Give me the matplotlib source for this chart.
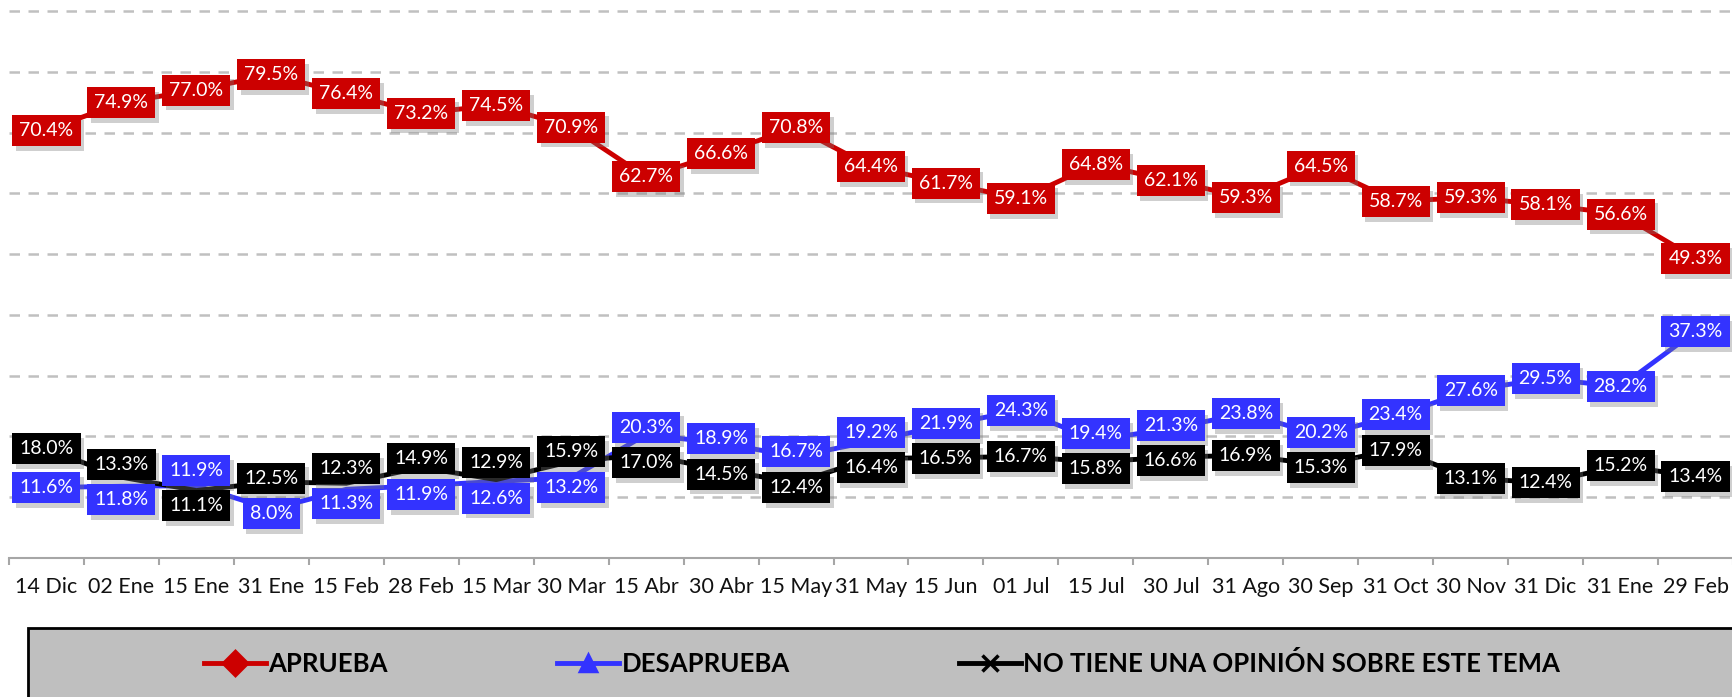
import numpy as np
import matplotlib
matplotlib.use('Agg')
import matplotlib.pyplot as plt
import matplotlib.patheffects as pe
from matplotlib.lines import Line2D
from matplotlib.patches import Rectangle

plt.rcParams['font.family'] = ['Lato', 'DejaVu Sans']

fechas = ['14 Dic', '02 Ene', '15 Ene', '31 Ene', '15 Feb', '28 Feb', '15 Mar', '30 Mar',
          '15 Abr', '30 Abr', '15 May', '31 May', '15 Jun', '01 Jul', '15 Jul', '30 Jul',
          '31 Ago', '30 Sep', '31 Oct', '30 Nov', '31 Dic', '31 Ene', '29 Feb']
aprueba = [70.4, 74.9, 77.0, 79.5, 76.4, 73.2, 74.5, 70.9, 62.7, 66.6, 70.8, 64.4,
           61.7, 59.1, 64.8, 62.1, 59.3, 64.5, 58.7, 59.3, 58.1, 56.6, 49.3]
desaprueba = [11.6, 11.8, 11.9, 8.0, 11.3, 11.9, 12.6, 13.2, 20.3, 18.9, 16.7, 19.2,
              21.9, 24.3, 19.4, 21.3, 23.8, 20.2, 23.4, 27.6, 29.5, 28.2, 37.3]
no_opina = [18.0, 13.3, 11.1, 12.5, 12.3, 14.9, 12.9, 15.9, 17.0, 14.5, 12.4, 16.4,
            16.5, 16.7, 15.8, 16.6, 16.9, 15.3, 17.9, 13.1, 12.4, 15.2, 13.4]

nombres = ['APRUEBA', 'DESAPRUEBA', 'NO TIENE UNA OPINIÓN SOBRE ESTE TEMA']
colores = ['#cc0000', '#3333ff', '#000000']
marcas = ['D', '^', 'x']

fig = plt.figure(figsize=(17.33, 6.97), dpi=100)
ax = fig.add_axes([9 / 1733, 1 - 558 / 697, 1 - 9 / 1733, (558 - 8) / 697])

x = np.arange(len(fechas))
series = [aprueba, desaprueba, no_opina]
for vals, col in zip(series, colores):
    ax.plot(x, vals, color=col, lw=3.5, zorder=3, solid_joinstyle='round')

# posiciones de las etiquetas (separar azul y negro cuando se tapan)
sep = 5.8
sombra = [pe.withSimplePatchShadow(offset=(2.5, -3.5), shadow_rgbFace='#777777', alpha=0.35)]
for i in range(len(fechas)):
    ya = aprueba[i]
    yb = desaprueba[i]
    yk = no_opina[i]
    if abs(yb - yk) < sep:
        mid = (yb + yk) / 2
        if yb >= yk:
            yb, yk = mid + sep / 2, mid - sep / 2
        else:
            yb, yk = mid - sep / 2, mid + sep / 2
    for val, yy, col in [(aprueba[i], ya, colores[0]), (desaprueba[i], yb, colores[1]),
                         (no_opina[i], yk, colores[2])]:
        t = ax.text(i, yy, f'{val:.1f}%', ha='center', va='center', color='white',
                    fontsize=14, zorder=6,
                    bbox=dict(boxstyle='square,pad=0.36', fc=col, ec='none'))
        t.get_bbox_patch().set_path_effects(sombra)

ax.set_xlim(-0.5, len(fechas) - 0.5)
ax.set_ylim(0, 90.5)
ax.set_yticks(np.arange(10, 91, 10))
ax.yaxis.grid(True, color='#c0c0c0', lw=1.8, linestyle=(0, (4.2, 3.4)))
ax.set_axisbelow(True)
ax.tick_params(axis='y', left=False, labelleft=False)

for s in ['top', 'right', 'left']:
    ax.spines[s].set_visible(False)
ax.spines['bottom'].set_color('#a6a6a6')
ax.spines['bottom'].set_linewidth(1.5)

ax.set_xticks(x)
ax.set_xticklabels(fechas, fontsize=15.5, color='#111111')
ax.tick_params(axis='x', which='major', length=0, pad=14)
ax.set_xticks(np.arange(-0.5, len(fechas), 1), minor=True)
ax.tick_params(axis='x', which='minor', length=5, width=1.5, color='#a6a6a6')

# caja de la leyenda
caja = Rectangle((28 / 1733, -0.02), 1.0, (697 - 628) / 697 + 0.02, transform=fig.transFigure,
                 fc='#bfbfbf', ec='black', lw=2, clip_on=False)
fig.patches.append(caja)

manejadores = [Line2D([], [], color=c, lw=3.5, marker=m, ms=12, mew=2.5) for c, m in zip(colores, marcas)]
fig.legend(manejadores, nombres, loc='center', bbox_to_anchor=(0.509, 1 - 663 / 697), ncol=3,
           frameon=False, handlelength=2.4, handletextpad=0.1, columnspacing=6.6,
           prop={'size': 18.5, 'weight': 'bold'})

fig.savefig('out.png', dpi=100)
